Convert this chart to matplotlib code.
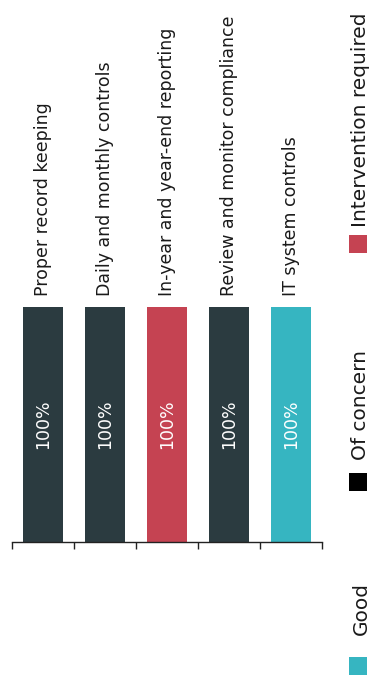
import matplotlib
matplotlib.use("Agg")
import matplotlib.pyplot as plt
from matplotlib.patches import Rectangle

categories = ["Proper record keeping", "Daily and monthly controls",
              "In-year and year-end reporting", "Review and monitor compliance",
              "IT system controls"]
values = [100, 100, 100, 100, 100]
statuses = ["Of concern", "Of concern", "Intervention required", "Of concern", "Good"]
value_labels = ["100%", "100%", "100%", "100%", "100%"]
legend_labels = ["Good", "Of concern", "Intervention required"]

colors = {"Good": "#36b5c1", "Of concern": "#2b3b40", "Intervention required": "#c54352"}
legend_square_colors = {"Good": "#36b5c1", "Of concern": "#000000", "Intervention required": "#c54352"}

W, H = 373, 679
fig = plt.figure(figsize=(W / 100, H / 100), dpi=100)
ax = fig.add_axes([12 / W, (H - 542) / H, (322 - 12) / W, (542 - 307) / H])

x = list(range(len(categories)))
ax.bar(x, values, width=0.66, color=[colors[s] for s in statuses], linewidth=0)
ax.set_xlim(-0.5, len(categories) - 0.5)
ax.set_ylim(0, 100)

for xi, v, lab, cat in zip(x, values, value_labels, categories):
    ax.text(xi, v / 2, lab, rotation=90, ha="center", va="center",
            color="white", fontsize=12.5)
    ax.annotate(cat, (xi, v), xytext=(0, 8), textcoords="offset points",
                rotation=90, ha="center", va="bottom", fontsize=12.5, color="#1a1a1a")

for s in ["top", "right", "left"]:
    ax.spines[s].set_visible(False)
ax.spines["bottom"].set_color("#222222")
ax.spines["bottom"].set_linewidth(1.0)
ax.set_yticks([])
ax.set_xticks([i - 0.5 for i in range(len(categories) + 1)])
ax.set_xticklabels([])
ax.tick_params(axis="x", length=5, color="#222222", width=1.0)

# rotated legend
sq_tops = [657, 473, 235]
text_starts = [635, 460, 227]
for lab, top, ts in zip(legend_labels, sq_tops, text_starts):
    fig.add_artist(Rectangle((349 / W, (H - top - 18) / H), 18 / W, 18 / H,
                             transform=fig.transFigure, color=legend_square_colors[lab], lw=0))
    fig.text(361 / W, (H - ts) / H, lab, rotation=90, ha="center", va="bottom",
             fontsize=14.5, color="#1a1a1a")

fig.savefig("out.png", dpi=100, facecolor="white")
